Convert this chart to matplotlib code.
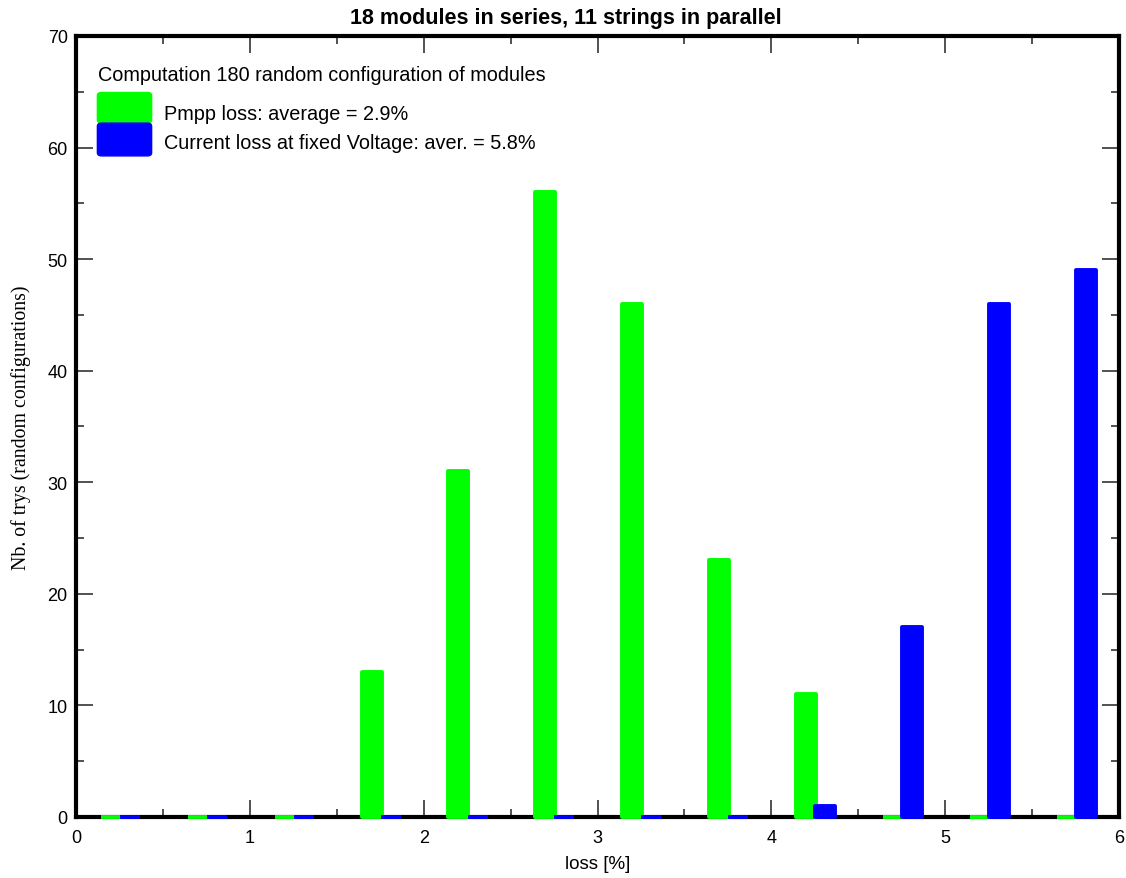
import numpy as np
import matplotlib
matplotlib.use('Agg')
import matplotlib.pyplot as plt
from matplotlib.patches import FancyBboxPatch

# --- data ---
bin_starts = np.arange(0, 6, 0.5)   # each class is 0.5 % wide
pmpp_counts = [0, 0, 0, 13, 31, 56, 46, 23, 11, 0, 0, 0]
current_counts = [0, 0, 0, 0, 0, 0, 0, 0, 1, 17, 46, 49]

GREEN = '#00ff00'
BLUE = '#0000ff'
BAR_W = 0.115

plt.rcParams['font.family'] = ['Liberation Sans', 'DejaVu Sans']

fig = plt.figure(figsize=(11.26, 8.79), dpi=100)
ax = fig.add_axes([0.0675, 0.0694, 0.9263, 0.8886])

x_green = bin_starts + 0.2
x_blue = bin_starts + 0.31

# bars sit on top of the frame so the empty classes show as short marks
ax.bar(x_green, pmpp_counts, width=BAR_W, color=GREEN, edgecolor=GREEN,
       linewidth=2.8, joinstyle='round', zorder=6, clip_on=False)
ax.bar(x_blue, current_counts, width=BAR_W, color=BLUE, edgecolor=BLUE,
       linewidth=2.8, joinstyle='round', zorder=7, clip_on=False)

ax.set_xlim(0, 6)
ax.set_ylim(0, 70)
ax.set_xticks(np.arange(0, 7, 1))
ax.set_xticks(np.arange(0.5, 6, 1), minor=True)
ax.set_yticks(np.arange(0, 71, 10))
ax.set_yticks(np.arange(5, 70, 10), minor=True)
ax.tick_params(which='both', direction='in', top=True, right=True,
               labelsize=13, width=1.2, colors='#333333', labelcolor='black')
ax.tick_params(which='major', length=12)
ax.tick_params(which='minor', length=6)
ax.tick_params(axis='x', which='major', pad=9)
ax.tick_params(axis='y', which='major', pad=6)
for s in ax.spines.values():
    s.set_linewidth(3)
    s.set_zorder(4)

ax.set_xlabel('loss [%]', fontsize=13.5, labelpad=6)
ax.set_ylabel('Nb. of trys (random configurations)', fontsize=14.3,
              family=['Liberation Serif', 'DejaVu Serif'], labelpad=12)
# title is centred on the figure, not on the axes
fig.text(0.5027, 0.979, '18 modules in series, 11 strings in parallel',
         fontsize=15.5, fontweight='bold', ha='center', va='center')

# legend block drawn by hand
ax.text(0.021, 0.951, 'Computation 180 random configuration of modules',
        transform=ax.transAxes, fontsize=14.3, va='center', ha='left')
ax.add_patch(FancyBboxPatch((0.0205, 0.8886), 0.052, 0.039,
                            boxstyle='round,pad=0,rounding_size=0.004',
                            transform=ax.transAxes, color=GREEN, zorder=5))
ax.add_patch(FancyBboxPatch((0.0205, 0.8464), 0.052, 0.042,
                            boxstyle='round,pad=0,rounding_size=0.004',
                            transform=ax.transAxes, color=BLUE, zorder=5))
ax.text(0.0844, 0.901, 'Pmpp loss: average = 2.9%',
        transform=ax.transAxes, fontsize=14.3, va='center', ha='left')
ax.text(0.0844, 0.863, 'Current loss at fixed Voltage: aver. = 5.8%',
        transform=ax.transAxes, fontsize=14.3, va='center', ha='left')

fig.savefig('out.png', dpi=100)
